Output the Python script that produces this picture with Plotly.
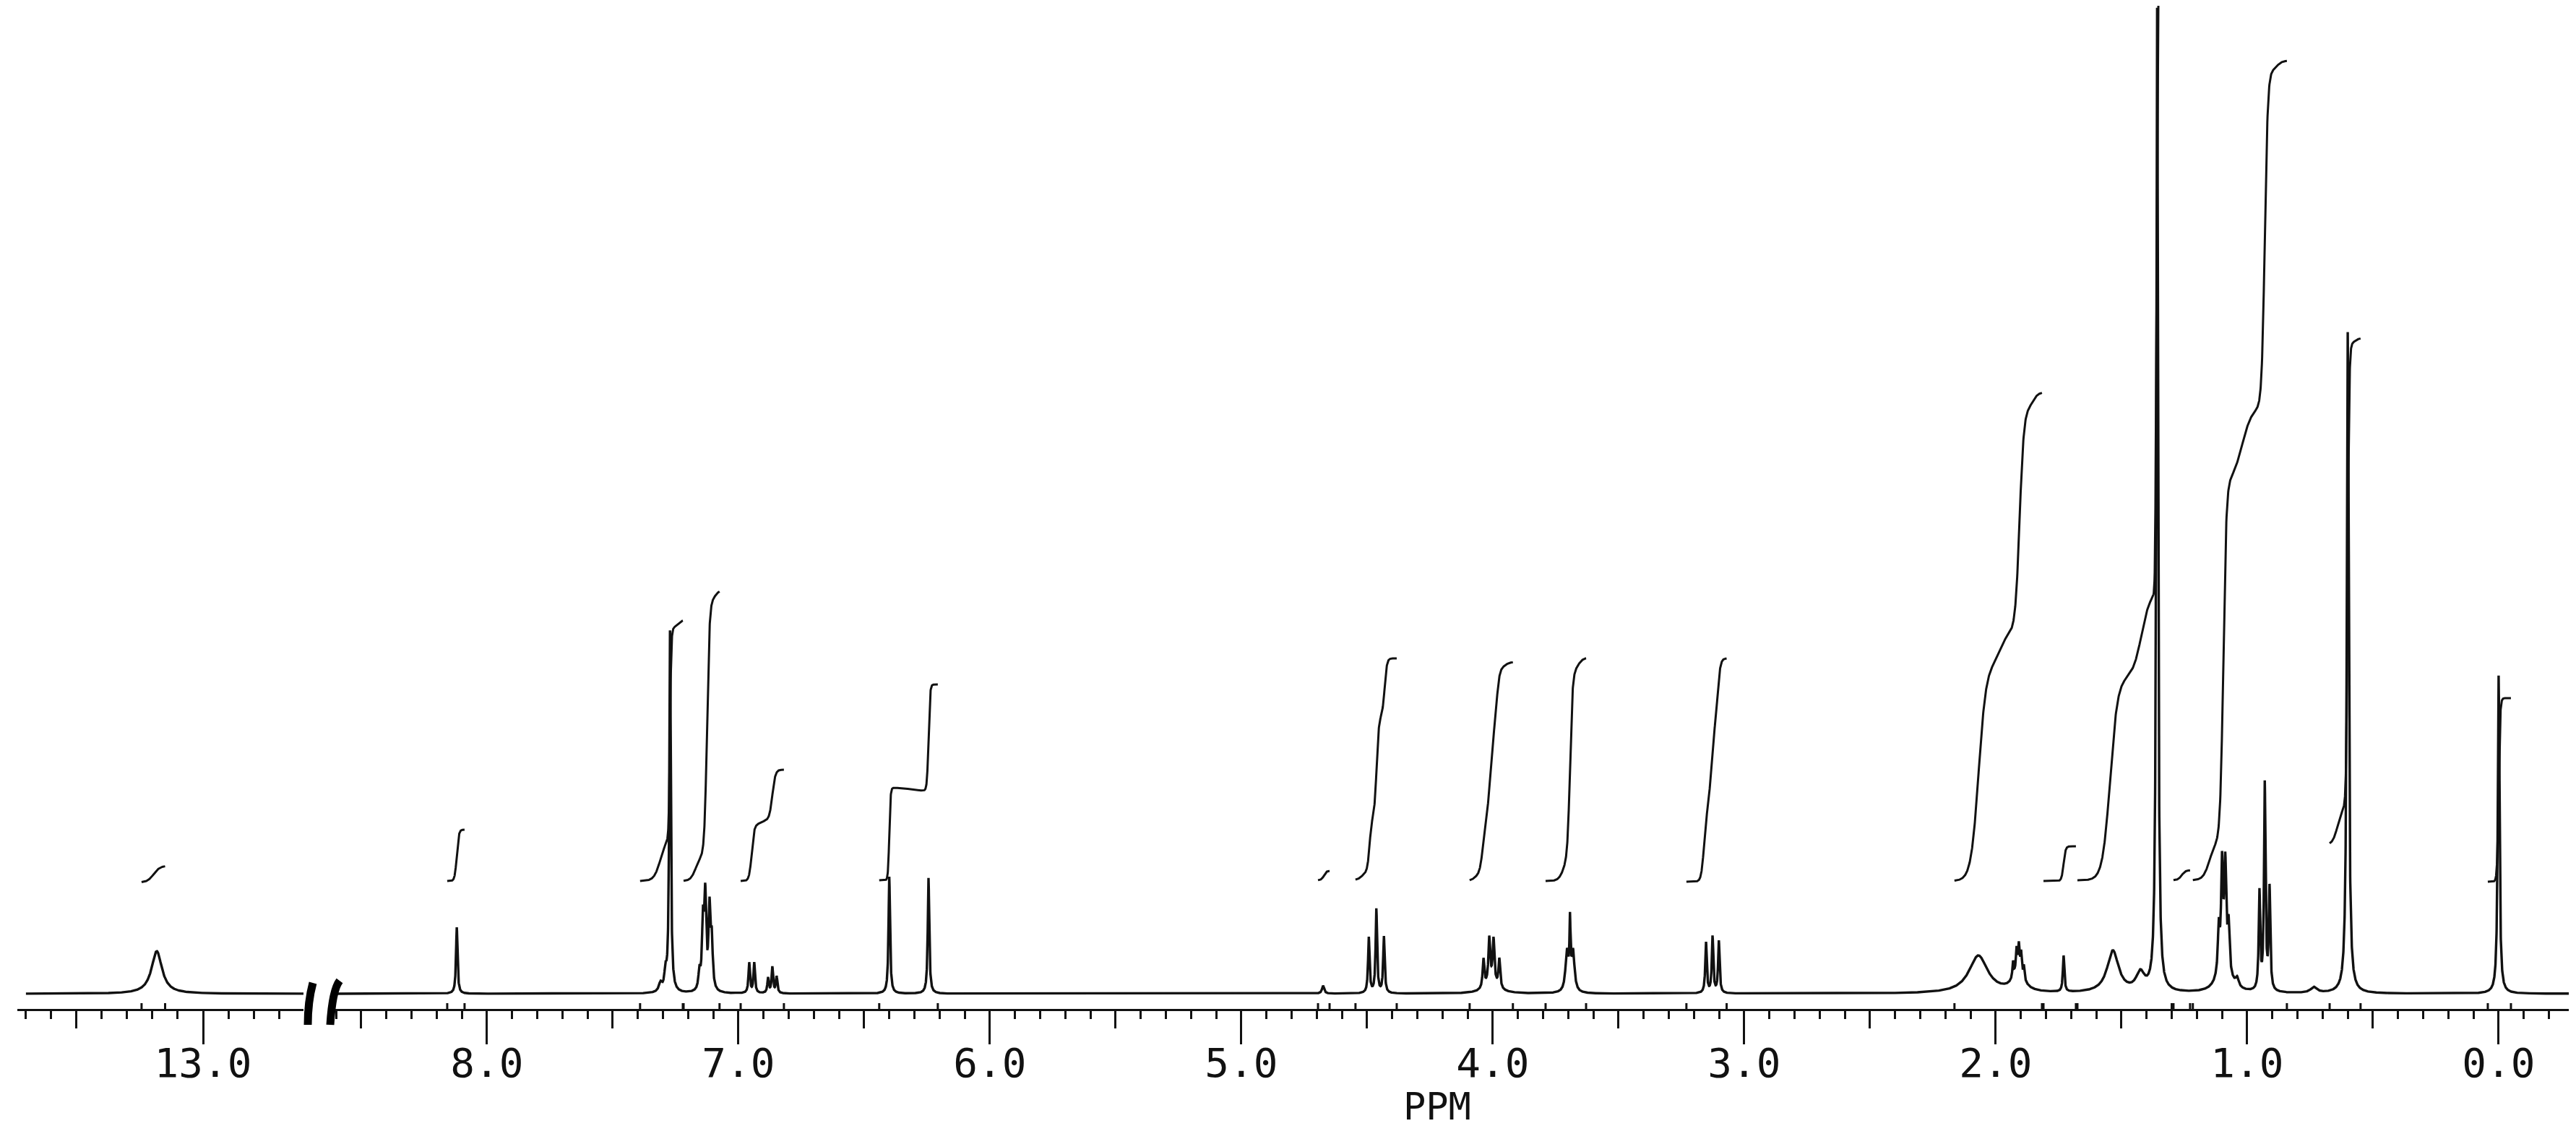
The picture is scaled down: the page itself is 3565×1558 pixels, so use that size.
import numpy as np
import plotly.graph_objects as go

# ---------------- axis layout (ppm) ----------------
LEFT_RANGE = [13.734, 12.603]      # segment left of the break
RIGHT_RANGE = [8.606, -0.279]      # main segment
MAJOR_LABELS_LEFT = [13.0]
MAJOR_LABELS_RIGHT = [8.0, 7.0, 6.0, 5.0, 4.0, 3.0, 2.0, 1.0, 0.0]
HALF_TICKS_LEFT = [13.5]
HALF_TICKS_RIGHT = [8.5, 7.5, 6.5, 5.5, 4.5, 3.5, 2.5, 1.5, 0.5]

# ---------------- peaks: position (ppm), height (a.u.), FWHM (ppm) ----------------
LEFT_PEAK_PPM = [13.183]
LEFT_PEAK_HEIGHT = [59]
LEFT_PEAK_WIDTH = [0.05]

PEAK_PPM = [
    8.120,
    7.310, 7.290, 7.272,
    7.155, 7.141, 7.132, 7.115, 7.106,
    6.957, 6.937, 6.882, 6.865, 6.848,
    6.400, 6.244,
    4.675,
    4.493, 4.463, 4.433,
    4.005, 4.037, 4.014, 3.997, 3.974,
    3.705, 3.693, 3.681,
    3.152, 3.126, 3.101,
    2.069,
    1.910, 1.931, 1.917, 1.908, 1.899, 1.888,
    1.730,
    1.534, 1.425,
    1.358,
    1.092, 1.113, 1.100, 1.087, 1.074, 1.040,
    0.951, 0.930, 0.911,
    0.735,
    0.600,
    0.000,
]
PEAK_HEIGHT = [
    92,
    12, 25, 500,
    25, 90, 125, 110, 65,
    42, 42, 21, 36, 23,
    162, 160,
    11,
    77, 116, 78,
    15, 40, 62, 60, 40,
    55, 85, 55,
    70, 78, 72,
    52,
    28, 22, 30, 34, 28, 18,
    50,
    58, 25,
    1360,
    55, 60, 130, 125, 60, 12,
    135, 285, 140,
    8,
    915,
    440,
]
PEAK_WIDTH = [
    0.007,
    0.015, 0.010, 0.007,
    0.009, 0.009, 0.009, 0.009, 0.009,
    0.007, 0.007, 0.007, 0.007, 0.007,
    0.007, 0.007,
    0.010,
    0.007, 0.007, 0.007,
    0.060, 0.008, 0.008, 0.008, 0.008,
    0.014, 0.005, 0.014,
    0.007, 0.007, 0.007,
    0.090,
    0.050, 0.006, 0.006, 0.006, 0.006, 0.006,
    0.007,
    0.055, 0.040,
    0.008,
    0.045, 0.008, 0.008, 0.008, 0.008, 0.015,
    0.007, 0.007, 0.007,
    0.030,
    0.009,
    0.008,
]

# ---------------- integral traces ----------------
# start/end (ppm), starting height, and the steps (centre ppm, rise, width ppm)
LEFT_INT_START = [13.243]
LEFT_INT_END = [13.150]
LEFT_INT_BASE = [154]
LEFT_INT_STEP_PPM = [[13.195]]
LEFT_INT_STEP_RISE = [[23]]
LEFT_INT_STEP_WIDTH = [[0.025]]

INT_START = [8.158, 7.391, 7.218, 6.991, 6.440, 4.695, 4.546, 4.092, 3.790, 3.230,
             2.164, 1.810, 1.675, 1.293, 1.216, 0.672, 0.043]
INT_END = [8.089, 7.221, 7.075, 6.819, 6.207, 4.649, 4.382, 3.920, 3.629, 3.070,
           1.816, 1.681, 1.300, 1.227, 0.842, 0.549, -0.049]
INT_BASE = [156, 156, 156, 156, 157, 157, 157, 156, 156, 155,
            156, 156, 157, 157, 157, 206, 155]
INT_STEP_PPM = [
    [8.120],
    [7.310, 7.272, 7.240],
    [7.170, 7.125, 7.090],
    [6.947, 6.910, 6.865],
    [6.400, 6.320, 6.244],
    [4.672],
    [4.520, 4.490, 4.462, 4.430],
    [4.070, 4.040, 4.012, 3.985, 3.950],
    [3.720, 3.693, 3.660],
    [3.160, 3.132, 3.106],
    [2.068, 1.980, 1.905, 1.850],
    [1.730],
    [1.545, 1.420, 1.360],
    [1.260],
    [1.150, 1.095, 1.020, 0.930, 0.880],
    [0.640, 0.600, 0.570],
    [0.000],
]
INT_STEP_RISE = [
    [71],
    [60, 290, 12],
    [35, 355, 12],
    [78, 6, 70],
    [128, -4, 147],
    [13],
    [12, 75, 140, 80],
    [10, 70, 120, 95, 8],
    [30, 260, 19],
    [100, 110, 99],
    [300, 45, 310, 21],
    [48],
    [280, 120, 1500],
    [14],
    [54, 495, 107, 465, 13],
    [54, 640, 7],
    [254],
]
INT_STEP_WIDTH = [
    [0.008],
    [0.025, 0.005, 0.020],
    [0.020, 0.010, 0.015],
    [0.010, 0.020, 0.012],
    [0.005, 0.030, 0.006],
    [0.010],
    [0.020, 0.009, 0.009, 0.009],
    [0.020, 0.012, 0.012, 0.012, 0.020],
    [0.020, 0.010, 0.020],
    [0.011, 0.011, 0.011],
    [0.030, 0.030, 0.017, 0.020],
    [0.008],
    [0.030, 0.035, 0.004],
    [0.015],
    [0.025, 0.012, 0.040, 0.012, 0.020],
    [0.020, 0.006, 0.015],
    [0.006],
]

# ---------------- geometry of the page ----------------
W, H = 3565, 1558
PLOT_H = 1388          # plot area height (axis line at bottom)
Y_RANGE = [-21, 1367]  # data units ~ pixels above the spectrum baseline
LEFT_DOMAIN = [16 / W, 412 / W]
RIGHT_DOMAIN = [455 / W, 3547 / W]

LINE_W = 3.4
INK = "#111111"
FONT = "DejaVu Sans Mono"


def spectrum(ppm_lo, ppm_hi, n, pos, hts, wds):
    x = np.linspace(ppm_hi, ppm_lo, n)
    y = np.zeros_like(x)
    for p, h, w in zip(pos, hts, wds):
        hw = w / 2.0
        y += h / (1.0 + ((x - p) / hw) ** 2)
    return x, y


def integral(start, end, base, cs, rs, ws, n=400):
    x = np.linspace(start, end, n)
    y = np.full_like(x, float(base))
    for c, r, w in zip(cs, rs, ws):
        y += r * 0.5 * (1.0 + np.tanh((c - x) / w))
    return x, y


def line_trace(x, y, xa, width=LINE_W):
    return go.Scatter(x=x, y=y, mode="lines", xaxis=xa, yaxis="y",
                      line=dict(color=INK, width=width), hoverinfo="skip",
                      showlegend=False)


fig = go.Figure()

# spectrum, left segment
xl, yl = spectrum(12.603, 13.70, 2000, LEFT_PEAK_PPM, LEFT_PEAK_HEIGHT, LEFT_PEAK_WIDTH)
fig.add_trace(line_trace(xl, yl, "x"))
# spectrum, right segment
xr, yr = spectrum(RIGHT_RANGE[1], RIGHT_RANGE[0], 30000, PEAK_PPM, PEAK_HEIGHT, PEAK_WIDTH)
fig.add_trace(line_trace(xr, yr, "x2"))

# integrals
for s, e, b, cs, rs, ws in zip(LEFT_INT_START, LEFT_INT_END, LEFT_INT_BASE,
                               LEFT_INT_STEP_PPM, LEFT_INT_STEP_RISE, LEFT_INT_STEP_WIDTH):
    xi, yi = integral(s, e, b, cs, rs, ws)
    fig.add_trace(line_trace(xi, yi, "x", 3))
for s, e, b, cs, rs, ws in zip(INT_START, INT_END, INT_BASE,
                               INT_STEP_PPM, INT_STEP_RISE, INT_STEP_WIDTH):
    xi, yi = integral(s, e, b, cs, rs, ws)
    fig.add_trace(line_trace(xi, yi, "x2", 3))


# integral-region markers (short upward ticks on the axis line)
def marker_trace(points, xa):
    xs, ys = [], []
    for p in points:
        xs += [p, p, None]
        ys += [Y_RANGE[0], Y_RANGE[0] + 8, None]
    return line_trace(xs, ys, xa, 3)


fig.add_trace(marker_trace(LEFT_INT_START + LEFT_INT_END, "x"))
fig.add_trace(marker_trace(INT_START + INT_END, "x2"))

# empty traces so that the overlaid label axes are drawn
fig.add_trace(go.Scatter(x=[None], y=[None], xaxis="x3", yaxis="y", mode="lines",
                         hoverinfo="skip", showlegend=False))
fig.add_trace(go.Scatter(x=[None], y=[None], xaxis="x4", yaxis="y", mode="lines",
                         hoverinfo="skip", showlegend=False))

tick_common = dict(ticks="outside", tickcolor=INK, tickwidth=3,
                   showgrid=False, zeroline=False, fixedrange=True)

fig.update_layout(
    width=W, height=H,
    margin=dict(l=0, r=0, t=0, b=H - PLOT_H, pad=0),
    paper_bgcolor="white", plot_bgcolor="white",
    showlegend=False,
    yaxis=dict(range=Y_RANGE, domain=[0, 1], visible=False, fixedrange=True),
    xaxis=dict(domain=LEFT_DOMAIN, range=LEFT_RANGE, anchor="y", autorange=False,
               showline=True, linecolor=INK, linewidth=3,
               tickmode="array", tickvals=HALF_TICKS_LEFT, ticktext=[""] * len(HALF_TICKS_LEFT),
               ticklen=24,
               minor=dict(tickmode="linear", tick0=0, dtick=0.1, ticks="outside",
                          ticklen=11, tickwidth=3, tickcolor=INK),
               **tick_common),
    xaxis2=dict(domain=RIGHT_DOMAIN, range=RIGHT_RANGE, anchor="y", autorange=False,
                showline=True, linecolor=INK, linewidth=3,
                tickmode="array", tickvals=HALF_TICKS_RIGHT, ticktext=[""] * len(HALF_TICKS_RIGHT),
                ticklen=24,
                minor=dict(tickmode="linear", tick0=0, dtick=0.1, ticks="outside",
                           ticklen=11, tickwidth=3, tickcolor=INK),
                **tick_common),
    xaxis3=dict(domain=RIGHT_DOMAIN, range=RIGHT_RANGE, anchor="y", overlaying="x2",
                autorange=False, showline=False, tickmode="array",
                tickvals=MAJOR_LABELS_RIGHT,
                ticktext=[f"{v:.1f}" for v in MAJOR_LABELS_RIGHT], ticklen=48,
                ticklabelstandoff=-22,
                tickfont=dict(family=FONT, size=56, color=INK),
                **tick_common),
    xaxis4=dict(domain=LEFT_DOMAIN, range=LEFT_RANGE, anchor="y", overlaying="x",
                autorange=False, showline=False, tickmode="array",
                tickvals=MAJOR_LABELS_LEFT,
                ticktext=[f"{v:.1f}" for v in MAJOR_LABELS_LEFT], ticklen=48,
                ticklabelstandoff=-22,
                tickfont=dict(family=FONT, size=56, color=INK),
                **tick_common),
)

# axis title
fig.add_annotation(text="PPM", x=4.22, xref="x2", y=(PLOT_H - 1523) / PLOT_H, yref="paper",
                   showarrow=False, xanchor="center", yanchor="middle",
                   font=dict(family=FONT, size=52, color=INK))


# axis-break marks
def px(xp):
    return xp / W


def py(yp):
    return (PLOT_H - yp) / PLOT_H


fig.add_shape(type="path", xref="paper", yref="paper",
              path=f"M {px(425)},{py(1352)} Q {px(418)},{py(1378)} {px(418)},{py(1410)}",
              line=dict(color="black", width=11))
fig.add_shape(type="path", xref="paper", yref="paper",
              path=f"M {px(462)},{py(1349)} Q {px(452)},{py(1362)} {px(449)},{py(1410)}",
              line=dict(color="black", width=11))

fig.write_html("out.html")
